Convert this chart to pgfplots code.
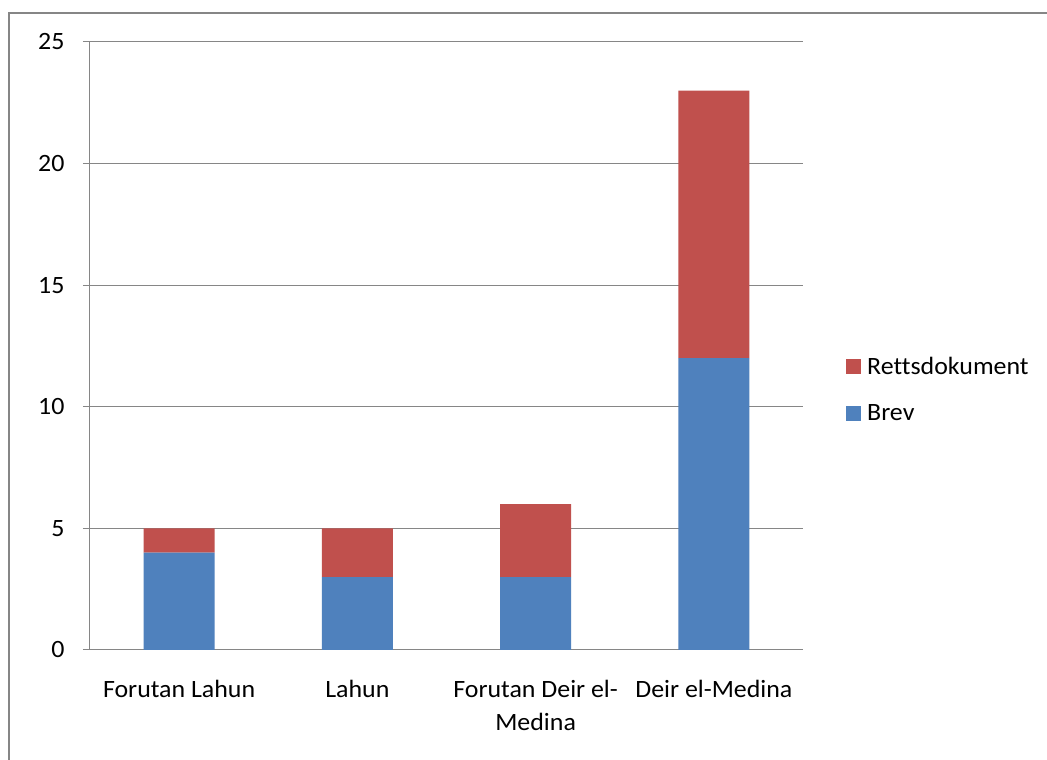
\documentclass[border=0pt]{standalone}
\usepackage{pgfplots}
\pgfplotsset{compat=1.18}
\usepackage{fontspec}
\setmainfont{Carlito}[FakeStretch=1.04, Ligatures={NoCommon}]
\definecolor{cblue}{RGB}{79,129,189}
\definecolor{cred}{RGB}{192,80,77}
\definecolor{cgray}{RGB}{134,134,134}
\begin{document}
\begin{tikzpicture}[x=1bp,y=1bp]
\useasboundingbox (-90,-110) rectangle (957,650);
\fill[white] (-90,-110) rectangle (957,650);
\begin{axis}[
  at={(0,0)}, anchor=south west,
  scale only axis, width=713bp, height=608bp,
  ybar stacked, bar width=71bp,
  xmin=-0.5, xmax=3.5, ymin=0, ymax=25,
  axis lines*=left,
  axis line style={cgray, line width=1bp},
  xtick={0,1,2,3},
  xticklabels={Forutan Lahun, Lahun, {Forutan Deir el-\\Medina}, Deir el-Medina},
  minor xtick={-0.5,0.5,1.5,2.5,3.5},
  xtick style={draw=none},
  minor x tick style={cgray, line width=1bp},
  ytick={0,5,10,15,20,25},
  ytick style={cgray, line width=1bp},
  tick align=outside,
  major tick length=7bp, minor tick length=7bp,
  ymajorgrids, grid style={cgray, line width=1bp},
  /pgf/number format/assume math mode=true,
  tick label style={font=\fontsize{25}{33}\selectfont, text=black},
  xticklabel style={align=flush center, text width=178bp, yshift=-20bp},
  yticklabel style={xshift=-15bp},
  reverse legend,
  legend style={at={(1.0603,0.4285)}, anchor=west, draw=none, fill=none,
    font=\fontsize{25}{30}\selectfont, row sep=25bp, inner sep=0pt,
    legend cell align=left},
  legend image code/.code={\fill[#1] (0bp,-7.5bp) rectangle (15bp,7.5bp);\path (19bp,0bp);},
]
\addplot[fill=cblue, draw=none] coordinates {(0,4) (1,3) (2,3) (3,12)};
\addplot[fill=cred, draw=none] coordinates {(0,1) (1,2) (2,3) (3,11)};
\legend{Brev, Rettsdokument}
\end{axis}
\draw[cgray, line width=2bp] (-81,-110) -- (-81,637) -- (957,637);
\end{tikzpicture}
\end{document}
